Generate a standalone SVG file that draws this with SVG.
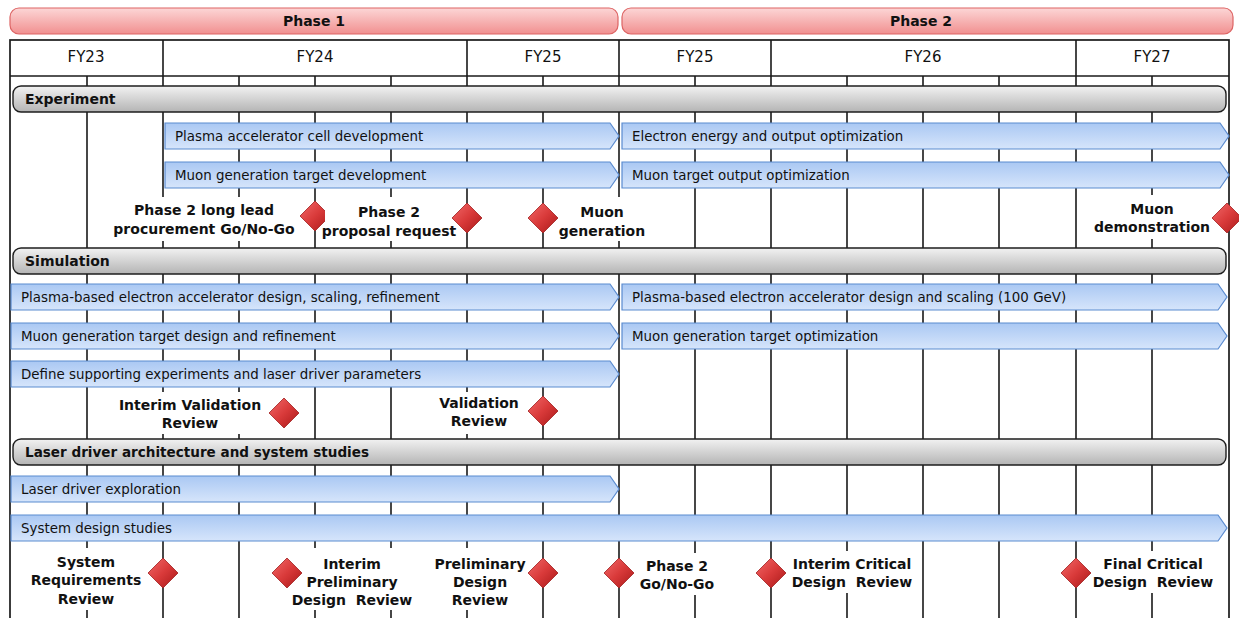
<svg xmlns="http://www.w3.org/2000/svg" width="1239" height="618" viewBox="0 0 1239 618">
<defs>
<linearGradient id="gPink" x1="0" y1="0" x2="0" y2="1"><stop offset="0" stop-color="#fcd6d6"/><stop offset="1" stop-color="#f19090"/></linearGradient>
<linearGradient id="gGray" x1="0" y1="0" x2="0" y2="1"><stop offset="0" stop-color="#f2f2f2"/><stop offset="1" stop-color="#b4b4b4"/></linearGradient>
<linearGradient id="gBlue" x1="0" y1="0" x2="0" y2="1"><stop offset="0" stop-color="#aac8f3"/><stop offset="1" stop-color="#d6e5fb"/></linearGradient>
<linearGradient id="gRed" x1="0" y1="0" x2="1" y2="1"><stop offset="0" stop-color="#f26a6a"/><stop offset="0.5" stop-color="#d93a3a"/><stop offset="1" stop-color="#a81818"/></linearGradient>
<path id="dia" d="M0 -15 L15 0 L0 15 L-15 0 Z"/>
</defs>
<style>
.phase{fill:url(#gPink);stroke:#dd6464;stroke-width:1.2}
.sec{fill:url(#gGray);stroke:#1e1e1e;stroke-width:1.4}
.bar{fill:url(#gBlue);stroke:#5a8bd0;stroke-width:1.2}
.grid{stroke:#1a1a1a;stroke-width:1.6;fill:none}
.frame{stroke:#1a1a1a;stroke-width:1.7;fill:none}
.mask{fill:#ffffff}
.dm{fill:url(#gRed);stroke:#a02020;stroke-width:0.8}
text{font-family:"DejaVu Sans","Liberation Sans",sans-serif;fill:#111}
.hd{font-size:15px;text-anchor:middle}
.bt{font-size:13.4px}
.bold{font-size:14px;font-weight:bold}
.ml{font-size:14px;font-weight:bold;text-anchor:middle}
</style>

<!-- Phase bars -->
<g id="phase1"><rect class="phase" x="10" y="8" width="608" height="26" rx="9"/><text class="bold" x="314" y="26" text-anchor="middle">Phase 1</text></g>
<g id="phase2"><rect class="phase" x="622" y="8" width="611" height="26" rx="9"/><text class="bold" x="921" y="26" text-anchor="middle">Phase 2</text></g>

<!-- Grid / table -->
<g id="grid">
<rect class="frame" x="10" y="40" width="1219" height="590"/>
<line class="frame" x1="10" y1="76" x2="1229" y2="76"/>
<path class="grid" d="M163 40V618M467 40V618M619 40V618M771 40V618M1076 40V618
M87 76V618M239 76V618M315 76V618M391 76V618M543 76V618M695 76V618M847 76V618M923 76V618M999 76V618M1152 76V618"/>
<text class="hd" x="86" y="62">FY23</text>
<text class="hd" x="315" y="62">FY24</text>
<text class="hd" x="543" y="62">FY25</text>
<text class="hd" x="695" y="62">FY25</text>
<text class="hd" x="923" y="62">FY26</text>
<text class="hd" x="1152" y="62">FY27</text>
</g>

<!-- Section headers -->
<g id="sec-experiment"><rect class="sec" x="13" y="86" width="1213" height="26" rx="8"/><text class="bold" x="25" y="104">Experiment</text></g>
<g id="sec-simulation"><rect class="sec" x="13" y="248" width="1213" height="26" rx="8"/><text class="bold" x="25" y="266">Simulation</text></g>
<g id="sec-laser"><rect class="sec" x="13" y="439" width="1213" height="26" rx="8"/><text class="bold" x="25" y="457" textLength="344" lengthAdjust="spacingAndGlyphs">Laser driver architecture and system studies</text></g>

<!-- Task bars -->
<g id="bars">
<g id="t1"><path class="bar" d="M165 123H610L619 136L610 149H165Z"/><text class="bt" x="175" y="141">Plasma accelerator cell development</text></g>
<g id="t2"><path class="bar" d="M622 123H1220L1229 136L1220 149H622Z"/><text class="bt" x="632" y="141">Electron energy and output optimization</text></g>
<g id="t3"><path class="bar" d="M165 162H610L619 175L610 188H165Z"/><text class="bt" x="175" y="180">Muon generation target development</text></g>
<g id="t4"><path class="bar" d="M622 162H1220L1229 175L1220 188H622Z"/><text class="bt" x="632" y="180">Muon target output optimization</text></g>
<g id="t5"><path class="bar" d="M11 284H610L619 297L610 310H11Z"/><text class="bt" x="21" y="302">Plasma-based electron accelerator design, scaling, refinement</text></g>
<g id="t6"><path class="bar" d="M622 284H1218L1227 297L1218 310H622Z"/><text class="bt" x="632" y="302">Plasma-based electron accelerator design and scaling (100 GeV)</text></g>
<g id="t7"><path class="bar" d="M11 323H610L619 336L610 349H11Z"/><text class="bt" x="21" y="341">Muon generation target design and refinement</text></g>
<g id="t8"><path class="bar" d="M622 323H1218L1227 336L1218 349H622Z"/><text class="bt" x="632" y="341">Muon generation target optimization</text></g>
<g id="t9"><path class="bar" d="M11 361H610L619 374L610 387H11Z"/><text class="bt" x="21" y="379">Define supporting experiments and laser driver parameters</text></g>
<g id="t10"><path class="bar" d="M11 476H610L619 489L610 502H11Z"/><text class="bt" x="21" y="494">Laser driver exploration</text></g>
<g id="t11"><path class="bar" d="M11 515H1218L1227 528L1218 541H11Z"/><text class="bt" x="21" y="533">System design studies</text></g>
</g>

<!-- Milestones -->
<g id="m1"><rect class="mask" x="110" y="197" width="188" height="44"/><text class="ml" x="204" y="215">Phase 2 long lead</text><text class="ml" x="204" y="234">procurement Go/No-Go</text><use href="#dia" class="dm" x="315" y="216"/></g>
<g id="m2"><rect class="mask" x="325" y="197" width="125" height="44"/><text class="ml" x="389" y="217">Phase 2</text><text class="ml" x="389" y="236">proposal request</text><use href="#dia" class="dm" x="467" y="218"/></g>
<g id="m3"><rect class="mask" x="556" y="197" width="94" height="44"/><text class="ml" x="602" y="217">Muon</text><text class="ml" x="602" y="236">generation</text><use href="#dia" class="dm" x="543" y="218"/></g>
<g id="m4"><rect class="mask" x="1088" y="195" width="128" height="44"/><text class="ml" x="1152" y="214">Muon</text><text class="ml" x="1152" y="232">demonstration</text><use href="#dia" class="dm" x="1227" y="218"/></g>
<g id="m5"><rect class="mask" x="112" y="392" width="156" height="42"/><text class="ml" x="190" y="410">Interim Validation</text><text class="ml" x="190" y="428">Review</text><use href="#dia" class="dm" x="284" y="413"/></g>
<g id="m6"><rect class="mask" x="433" y="392" width="92" height="42"/><text class="ml" x="479" y="408">Validation</text><text class="ml" x="479" y="426">Review</text><use href="#dia" class="dm" x="543" y="411"/></g>
<g id="m7"><rect class="mask" x="20" y="548" width="132" height="62"/><text class="ml" x="86" y="567">System</text><text class="ml" x="86" y="585">Requirements</text><text class="ml" x="86" y="604">Review</text><use href="#dia" class="dm" x="163" y="573"/></g>
<g id="m8"><rect class="mask" x="290" y="548" width="124" height="62"/><text class="ml" x="352" y="569">Interim</text><text class="ml" x="352" y="587">Preliminary</text><text class="ml" x="352" y="605">Design&#160; Review</text><use href="#dia" class="dm" x="287" y="573"/></g>
<g id="m9"><rect class="mask" x="432" y="548" width="96" height="62"/><text class="ml" x="480" y="569">Preliminary</text><text class="ml" x="480" y="587">Design</text><text class="ml" x="480" y="605">Review</text><use href="#dia" class="dm" x="543" y="573"/></g>
<g id="m10"><rect class="mask" x="632" y="553" width="90" height="42"/><text class="ml" x="677" y="571">Phase 2</text><text class="ml" x="677" y="589">Go/No-Go</text><use href="#dia" class="dm" x="619" y="573"/></g>
<g id="m11"><rect class="mask" x="786" y="551" width="132" height="42"/><text class="ml" x="852" y="569">Interim Critical</text><text class="ml" x="852" y="587">Design&#160; Review</text><use href="#dia" class="dm" x="771" y="573"/></g>
<g id="m12"><rect class="mask" x="1090" y="551" width="126" height="42"/><text class="ml" x="1153" y="569">Final Critical</text><text class="ml" x="1153" y="587">Design&#160; Review</text><use href="#dia" class="dm" x="1076" y="573"/></g>
</svg>
